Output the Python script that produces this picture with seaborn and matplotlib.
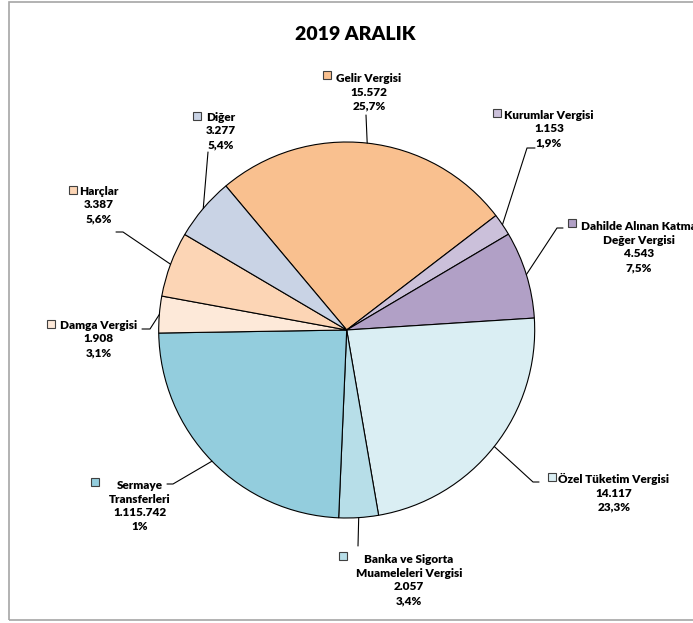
import numpy as np
import matplotlib
matplotlib.use("Agg")
import matplotlib.pyplot as plt
import seaborn as sns
from matplotlib.patches import Rectangle

# Data (clockwise from "Gelir Vergisi")
categories = ["Gelir Vergisi", "Kurumlar Vergisi", "Dahilde Alınan Katma\nDeğer Vergisi",
              "Özel Tüketim Vergisi", "Banka ve Sigorta\nMuameleleri Vergisi",
              "Sermaye\nTransferleri", "Damga Vergisi", "Harçlar", "Diğer"]
slice_values = [15.572, 1.153, 4.543, 14.117, 2.057, 14.58, 1.908, 3.387, 3.277]
amount_labels = ["15.572", "1.153", "4.543", "14.117", "2.057", "1.115.742", "1.908", "3.387", "3.277"]
pct_labels = ["25,7%", "1,9%", "7,5%", "23,3%", "3,4%", "1%", "3,1%", "5,6%", "5,4%"]
colors = ["#F9C08F", "#CBC0DA", "#B1A0C6", "#DAEEF3", "#B7DEE8",
          "#93CDDD", "#FDE9D9", "#FCD5B5", "#C9D3E5"]

# Label layout in pixels (x center, y center from top), key square pos, leader elbow
label_pos = [(369, 92), (549, 129), (639, 247), (614, 493), (409, 580),
             (140, 506), (99, 339), (99, 205), (221, 131)]
key_pos = [(327, 75), (497, 113), (572, 223), (552, 477), (343, 556),
           (95, 482), (51, 324), (73, 190), (197, 116)]
leader_ends = [[(366, 115)], [(527, 148), (535, 148)], [(557, 228), (563, 228)],
               [(533, 482), (539, 482)], [(358, 546)], [(173, 484), (167, 484)],
               [(150, 329), (142, 329)], [(123, 232), (116, 232)], [(208, 152)]]

W, H = 693, 623
sns.set_theme(style="white")
plt.rcParams['font.family'] = ['Lato', 'DejaVu Sans']

fig = plt.figure(figsize=(W / 100, H / 100), dpi=100)
ax = fig.add_axes([0, 0, 1, 1])

cx, cy, r = 346.7, H - 330, 188
wedges, _ = ax.pie(slice_values, colors=colors, startangle=130, counterclock=False,
                   center=(cx, cy), radius=r,
                   wedgeprops=dict(edgecolor="black", linewidth=0.8))
ax.set_xlim(0, W)
ax.set_ylim(0, H)
ax.set_aspect('equal')
ax.axis('off')

# outer frame
ax.add_patch(Rectangle((9, H - 620), 700, 618, fill=False, edgecolor="#A6A6A6",
                       linewidth=1.2, clip_on=False))

ax.text(355, H - 35, "2019 ARALIK", ha="center", va="center",
        fontsize=14, fontweight="heavy", color="black")

for i, w in enumerate(wedges):
    mid = np.deg2rad((w.theta1 + w.theta2) / 2)
    px, py = cx + r * np.cos(mid), cy + r * np.sin(mid)
    pts = [(px, py)] + [(x, H - y) for x, y in leader_ends[i]]
    xs, ys = zip(*pts)
    ax.plot(xs, ys, color="black", linewidth=0.8)

    lx, ly = label_pos[i]
    txt = f"{categories[i]}\n{amount_labels[i]}\n{pct_labels[i]}"
    ax.text(lx, H - ly, txt, ha="center", va="center", multialignment="center",
            fontsize=8.5, fontweight="heavy", linespacing=1.32, color="black")
    kx, ky = key_pos[i]
    ax.plot([kx], [H - ky], marker="s", markersize=5.5, markerfacecolor=colors[i],
            markeredgecolor="#404040", markeredgewidth=0.8, linestyle="none")

fig.savefig("out.png", dpi=100, facecolor="white")
